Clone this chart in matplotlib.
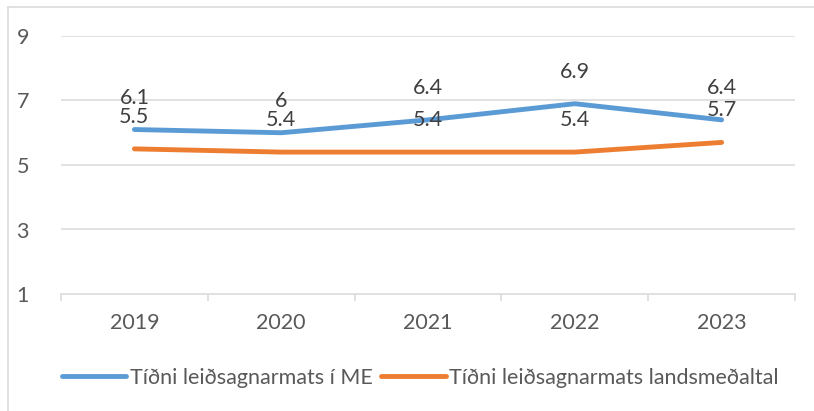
import matplotlib
matplotlib.use("Agg")
import matplotlib.pyplot as plt
from matplotlib.lines import Line2D

years = ["2019", "2020", "2021", "2022", "2023"]
me_values = [6.1, 6.0, 6.4, 6.9, 6.4]
national_values = [5.5, 5.4, 5.4, 5.4, 5.7]
me_labels = ["6.1", "6", "6.4", "6.9", "6.4"]
national_labels = ["5.5", "5.4", "5.4", "5.4", "5.7"]
series_names = ["Tíðni leiðsagnarmats í ME", "Tíðni leiðsagnarmats landsmeðaltal"]
y_ticks = [1, 3, 5, 7, 9]

plt.rcParams['font.family'] = ['Lato', 'DejaVu Sans']

W, H = 814, 411
fig = plt.figure(figsize=(W / 100, H / 100), dpi=100)
ax = fig.add_axes([61 / W, 1 - 294 / H, (795 - 61) / W, (294 - 36) / H])

blue = "#5b9bd5"
orange = "#ed7d31"
grid = "#d9d9d9"
tick_col = "#595959"
lab_col = "#404040"
fs = 15.5

x = list(range(len(years)))
l1, = ax.plot(x, me_values, color=blue, lw=3.5, solid_capstyle='round', solid_joinstyle='round', zorder=3)
l2, = ax.plot(x, national_values, color=orange, lw=3.5, solid_capstyle='round', solid_joinstyle='round', zorder=3)

for xi, v, t in zip(x, me_values, me_labels):
    ax.annotate(t, (xi, v), xytext=(0, 23), textcoords='offset points', ha='center', va='center',
                fontsize=fs, color=lab_col, zorder=4)
for xi, v, t in zip(x, national_values, national_labels):
    ax.annotate(t, (xi, v), xytext=(0, 23), textcoords='offset points', ha='center', va='center',
                fontsize=fs, color=lab_col, zorder=4)

ax.set_xlim(-0.5, len(years) - 0.5)
ax.set_ylim(1, 9)
ax.set_yticks(y_ticks)
ax.set_yticklabels([str(v) for v in y_ticks])
ax.set_xticks(x)
ax.set_xticklabels(years)
ax.set_xticks([i - 0.5 for i in range(len(years) + 1)], minor=True)
for yv in y_ticks[1:]:
    ax.axhline(yv, color=grid, lw=1.1, zorder=1)
for s in ["top", "right", "left"]:
    ax.spines[s].set_visible(False)
ax.spines["bottom"].set_color(grid)
ax.spines["bottom"].set_linewidth(1.1)
ax.tick_params(axis='y', length=0, pad=23, labelsize=fs, labelcolor=tick_col)
ax.tick_params(axis='x', which='major', length=0, pad=14, labelsize=fs, labelcolor=tick_col)
ax.tick_params(axis='x', which='minor', length=5, width=1.1, color=grid)

fig.legend([l1, l2], series_names, loc='center', bbox_to_anchor=(420 / W, 1 - 378 / H),
           ncol=2, frameon=False, fontsize=fs, labelcolor=tick_col, handlelength=3.0,
           handletextpad=0.15, columnspacing=0.4, borderpad=0)

fig.add_artist(Line2D([8 / W, 8 / W], [0, 1 - 7 / H], transform=fig.transFigure, color=grid, lw=1.1))
fig.add_artist(Line2D([8 / W, 1], [1 - 7 / H, 1 - 7 / H], transform=fig.transFigure, color=grid, lw=1.1))

fig.savefig("out.png", dpi=100, facecolor="white")
